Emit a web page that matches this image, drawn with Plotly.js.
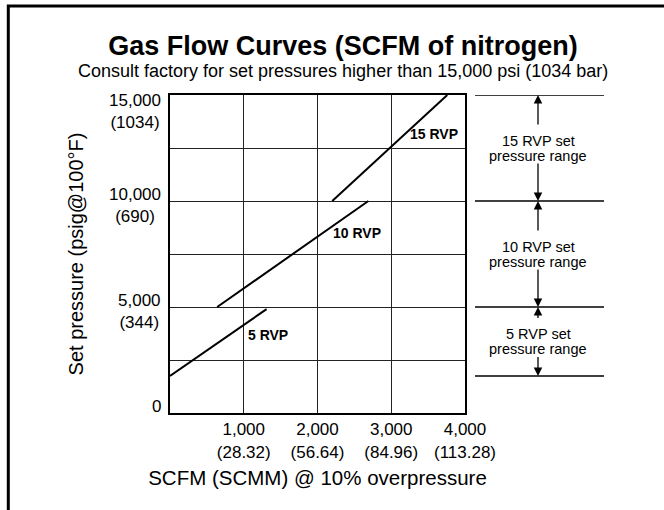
<!DOCTYPE html>
<html><head><meta charset="utf-8">
<script src="https://cdn.plot.ly/plotly-3.0.1.min.js"></script>
<style>html,body{margin:0;padding:0;background:#fff}#chart{width:664px;height:510px}</style>
</head><body><div id="chart"></div>
<script>
// ---- data ----
const seriesNames = ['5 RVP', '10 RVP', '15 RVP'];
const scfm5 = [0, 1310];    const psi5 = [1750, 4900];
const scfm10 = [640, 2690]; const psi10 = [5000, 10000];
const scfm15 = [2200, 3760]; const psi15 = [10000, 15000];
const seriesLabelX = [1330, 2540, 3580];
const seriesLabelY = [3680, 8490, 13160];
const xTickVals = [1000, 2000, 3000, 4000];
const xTickScfm = ['1,000', '2,000', '3,000', '4,000'];
const xTickScmm = ['(28.32)', '(56.64)', '(84.96)', '(113.28)'];
const yGridVals = [0, 2500, 5000, 7500, 10000, 12500, 15000];
const yTickVals = [0, 5000, 10000, 15000];
const yTickPsi = ['0', '5,000', '10,000', '15,000'];
const yTickBar = ['', '(344)', '(690)', '(1034)'];
const rangeNames = ['15 RVP', '10 RVP', '5 RVP'];
const rangeHi = [15000, 10000, 5000];
const rangeLo = [10000, 5000, 1750];

// ---- layout helpers ----
const FONT = 'Liberation Sans, Arial, Helvetica, sans-serif';
const W = 664, H = 510, L = 170, R = 199, T = 95, B = 97;
const pw = W - L - R, ph = H - T - B;
const unitsPerPxY = 15000 / ph;
const px2paperX = px => (px - L) / pw;
const px2paperY = py => (H - B - py) / ph;
const yMax = Math.max(...yTickVals);

const xs = [scfm5, scfm10, scfm15], ys = [psi5, psi10, psi15];
const traces = xs.map((x, i) => ({
  x: x, y: ys[i], type: 'scatter', mode: 'lines', name: seriesNames[i],
  line: {color: '#000', width: 2}, hoverinfo: 'x+y+name'
}));

const annotations = [];
// series labels
seriesNames.forEach((n, i) => annotations.push({
  x: seriesLabelX[i], y: seriesLabelY[i], xref: 'x', yref: 'y', text: '<b>' + n + '</b>',
  showarrow: false, font: {family: FONT, size: 14, color: '#000'}
}));
// y tick labels (psi + bar)
yTickVals.forEach((v, i) => annotations.push({
  x: px2paperX(L - 7), y: v, xref: 'paper', yref: 'y', xanchor: 'right', yanchor: 'top',
  yshift: v === yMax ? 6 : 18,
  text: yTickPsi[i] + (yTickBar[i] ? '<br>' + yTickBar[i] : ''), align: 'center',
  showarrow: false, font: {family: FONT, size: 17, color: '#000'}
}));
// subtitle
annotations.push({
  x: px2paperX(343), y: px2paperY(71), xref: 'paper', yref: 'paper', xanchor: 'center', yanchor: 'middle',
  text: 'Consult factory for set pressures higher than 15,000 psi (1034 bar)',
  showarrow: false, font: {family: FONT, size: 18, color: '#000'}
});

// right-side ranges
const arrowX = px2paperX(538);
const shapes = [];
const boundaries = [];
const rangeFont = {family: FONT, size: 14.5, color: '#000'};
rangeNames.forEach((n, i) => {
  const hi = rangeHi[i], lo = rangeLo[i], mid = (hi + lo) / 2;
  if (!boundaries.includes(hi)) boundaries.push(hi);
  if (!boundaries.includes(lo)) boundaries.push(lo);
  annotations.push({
    x: arrowX, y: mid, xref: 'paper', yref: 'y', xanchor: 'center', yanchor: 'middle', yshift: 7,
    text: n + ' set', showarrow: false, font: rangeFont
  });
  annotations.push({
    x: arrowX, y: mid, xref: 'paper', yref: 'y', xanchor: 'center', yanchor: 'middle', yshift: -8,
    text: 'pressure range', showarrow: false, font: rangeFont
  });
  const halfPx = (hi - mid) / unitsPerPxY;
  annotations.push({
    x: arrowX, y: hi, xref: 'paper', yref: 'y', text: '', showarrow: true,
    ax: 0, ay: halfPx - 22, arrowhead: 2, arrowsize: 1.3, arrowwidth: 1.3, arrowcolor: '#000', standoff: 0
  });
  annotations.push({
    x: arrowX, y: lo, xref: 'paper', yref: 'y', text: '', showarrow: true,
    ax: 0, ay: -(halfPx - 14), arrowhead: 2, arrowsize: 1.3, arrowwidth: 1.3, arrowcolor: '#000', standoff: 0
  });
});
boundaries.forEach(b => shapes.push({
  type: 'path', xref: 'paper', yref: 'y',
  path: 'M ' + px2paperX(475) + ',' + b + ' L ' + px2paperX(604) + ',' + b,
  line: {color: '#000', width: 1.5}
}));
// outer frame (left and top)
shapes.push({
  type: 'path', xref: 'paper', yref: 'paper',
  path: 'M ' + px2paperX(8.3) + ',' + px2paperY(520) + ' L ' + px2paperX(8.3) + ',' + px2paperY(6) +
        ' L ' + px2paperX(680) + ',' + px2paperY(6),
  line: {color: '#000', width: 3}
});

const layout = {
  width: W, height: H,
  margin: {l: L, r: R, t: T, b: B, pad: 0},
  paper_bgcolor: '#fff', plot_bgcolor: '#fff',
  showlegend: false,
  font: {family: FONT, color: '#000'},
  title: {
    text: '<b>Gas Flow Curves (SCFM of nitrogen)</b>',
    font: {family: FONT, size: 27, color: '#000'},
    xref: 'container', x: 343 / W, xanchor: 'center',
    yref: 'container', y: 1 - 46 / H, yanchor: 'middle'
  },
  xaxis: {
    range: [0, 4000], tickvals: xTickVals,
    ticktext: xTickScfm.map((t, i) => t + '<br>' + xTickScmm[i]),
    tickfont: {family: FONT, size: 17, color: '#000'},
    ticks: '', showgrid: true, gridcolor: '#222', gridwidth: 1,
    showline: true, linecolor: '#000', linewidth: 2, mirror: true,
    zeroline: false, fixedrange: true,
    title: {text: 'SCFM (SCMM) @ 10% overpressure', font: {family: FONT, size: 20.5, color: '#000'}, standoff: 10}
  },
  yaxis: {
    range: [0, 15000], tickvals: yGridVals, showticklabels: false,
    ticks: '', showgrid: true, gridcolor: '#222', gridwidth: 1,
    showline: true, linecolor: '#000', linewidth: 2, mirror: true,
    zeroline: false, fixedrange: true,
    title: {text: 'Set pressure (psig@100°F)', font: {family: FONT, size: 20, color: '#000'}, standoff: 79}
  },
  annotations: annotations,
  shapes: shapes
};

Plotly.newPlot('chart', traces, layout, {displayModeBar: false, staticPlot: true});
</script>
</body></html>
